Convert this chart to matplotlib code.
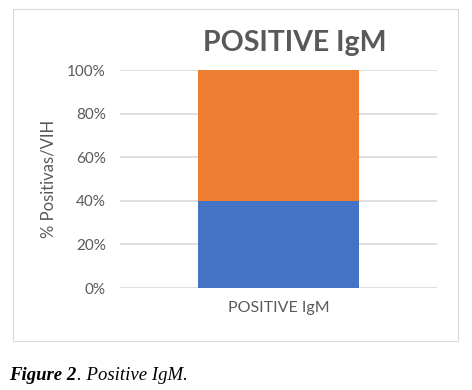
import matplotlib.pyplot as plt
from matplotlib.patches import Rectangle
from matplotlib.ticker import PercentFormatter

# Data
categories = ["POSITIVE IgM"]
lower_share = [40]
upper_share = [60]
y_ticks = [0, 20, 40, 60, 80, 100]

BLUE = "#4472C4"
ORANGE = "#ED7D31"
GRAY_TEXT = "#595959"
GRID = "#D9D9D9"


def main() -> None:
    plt.rcParams["font.family"] = ["Lato", "DejaVu Sans"]
    fig = plt.figure(figsize=(4.72, 3.90), dpi=100)
    ax = fig.add_axes([0.254, 0.2615, 0.672, 0.559])

    # Chart border
    fig.patches.append(Rectangle((0.0275, 0.1256), 0.943, 0.851, transform=fig.transFigure,
                                 fill=False, edgecolor="#D9D9D9", linewidth=0.8))

    x = list(range(len(categories)))
    ax.bar(x, lower_share, width=0.51, color=BLUE, zorder=3)
    ax.bar(x, upper_share, bottom=lower_share, width=0.51, color=ORANGE, zorder=3)

    ax.set_xlim(-0.5, 0.5)
    ax.set_ylim(0, 100)
    ax.set_yticks(y_ticks)
    ax.yaxis.set_major_formatter(PercentFormatter(decimals=0))
    ax.set_xticks(x)
    ax.set_xticklabels(categories)
    ax.tick_params(axis="y", length=0, labelsize=11, colors=GRAY_TEXT, pad=10)
    ax.tick_params(axis="x", length=0, labelsize=11.5, colors=GRAY_TEXT, pad=9)
    ax.grid(axis="y", color=GRID, linewidth=1.2, zorder=0)
    for side in ax.spines.values():
        side.set_visible(False)

    fig.text(0.102, 0.541, "% Positivas/VIH", rotation=90, ha="center", va="center",
             fontsize=12, color=GRAY_TEXT)
    fig.text(0.625, 0.89, "POSITIVE IgM", ha="center", va="center",
             fontsize=20.5, fontweight="bold", color=GRAY_TEXT)

    # Caption
    first = fig.text(0.02, 0.036, "Figure 2", ha="left", va="center", fontsize=13.5,
                     family="Liberation Serif", style="italic", fontweight="bold")
    ax.annotate(". Positive IgM.", xy=(1, 0), xycoords=first, ha="left", va="bottom",
                fontsize=13.5, family="Liberation Serif", style="italic",
                annotation_clip=False)

    fig.savefig("out.png", dpi=100)


if __name__ == "__main__":
    main()
